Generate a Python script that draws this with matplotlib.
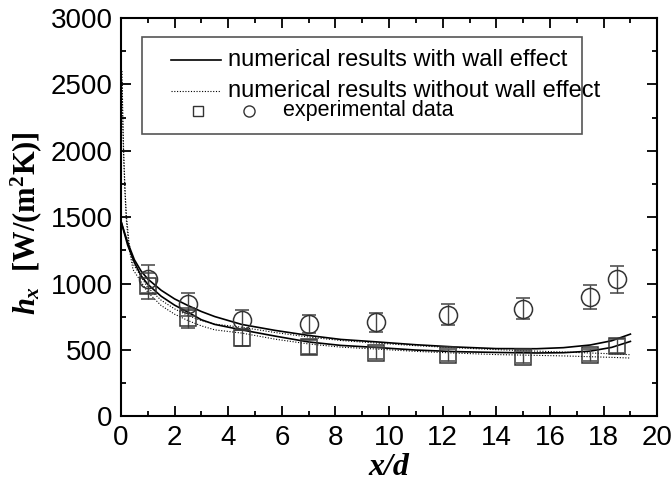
import matplotlib.pyplot as plt
from matplotlib.patches import Rectangle
from matplotlib.lines import Line2D
from matplotlib.ticker import MultipleLocator

plt.rcParams['font.family'] = ['Liberation Sans', 'DejaVu Sans']
plt.rcParams['mathtext.fontset'] = 'custom'
plt.rcParams['mathtext.rm'] = 'Liberation Serif:bold'
plt.rcParams['mathtext.it'] = 'Liberation Serif:italic:bold'
plt.rcParams['mathtext.bf'] = 'Liberation Serif:bold'

# experimental points (two test cases) with error bars
x_exp = [1, 2.5, 4.5, 7, 9.5, 12.2, 15, 17.5, 18.5]
h_circ = [1035, 843, 729, 697, 709, 767, 812, 898, 1032]
err_circ = [103, 84, 73, 70, 71, 77, 81, 90, 103]
h_sq = [985, 742, 591, 523, 478, 465, 447, 465, 528]
err_sq = [98, 74, 59, 52, 48, 46, 45, 46, 53]

# numerical results with wall effect
x_wall = [0, 0.25, 0.5, 0.75, 1, 1.5, 2, 2.5, 3, 3.5, 4.5, 5.75, 7, 8.2,
          9.5, 11, 12.5, 14, 15.5, 16.5, 17.5, 18.3, 19]
h_wall_1 = [1470, 1310, 1180, 1095, 1035, 950, 885, 835, 790, 752, 693, 648,
            610, 580, 562, 540, 523, 511, 510, 518, 538, 570, 620]
h_wall_2 = [1470, 1290, 1160, 1060, 995, 905, 838, 785, 728, 693, 652, 605,
            561, 535, 520, 500, 488, 482, 478, 480, 492, 520, 565]

# numerical results without wall effect
x_nowall = [0.04, 0.07, 0.1, 0.15, 0.2, 0.3, 0.45, 0.65, 1, 1.5, 2, 2.5, 3,
            3.5, 4.5, 5.75, 7, 8.2, 9.5, 11, 12.5, 14, 15.5, 16.5, 17.5, 18.3, 19]
h_nowall_1 = [2600, 2250, 2000, 1720, 1520, 1310, 1150, 1085, 970, 875, 810,
              760, 722, 695, 672, 632, 598, 572, 553, 533, 517, 503, 492, 485,
              478, 472, 465]
h_nowall_2 = [2520, 2180, 1950, 1680, 1480, 1270, 1105, 1045, 935, 835, 770,
              722, 682, 652, 628, 582, 546, 522, 508, 490, 477, 466, 460, 456,
              450, 445, 440]

fig = plt.figure(figsize=(6.72, 4.92), dpi=100)
ax = fig.add_axes([0.180, 0.1535, 0.798, 0.810])

ax.plot(x_wall, h_wall_1, color='black', lw=1.2)
ax.plot(x_wall, h_wall_2, color='black', lw=1.2)
ax.plot(x_nowall, h_nowall_1, color='black', lw=0.8, ls=(0, (1, 1.5)))
ax.plot(x_nowall, h_nowall_2, color='black', lw=0.8, ls=(0, (1, 1.5)))

ax.errorbar(x_exp, h_sq, yerr=err_sq, fmt='s', ms=11, mfc='none', mec='#333333',
            mew=1.1, ecolor='#444444', elinewidth=1.0, capsize=5, capthick=1.0)
ax.errorbar(x_exp, h_circ, yerr=err_circ, fmt='o', ms=13, mfc='none', mec='#333333',
            mew=1.1, ecolor='#444444', elinewidth=1.0, capsize=5, capthick=1.0)

ax.set_xlim(0, 20)
ax.set_ylim(0, 3000)
ax.xaxis.set_major_locator(MultipleLocator(2))
ax.xaxis.set_minor_locator(MultipleLocator(1))
ax.yaxis.set_major_locator(MultipleLocator(500))
ax.yaxis.set_minor_locator(MultipleLocator(250))
ax.tick_params(which='both', direction='in', top=True, right=True, width=1.3,
               labelsize=20, pad=6)
ax.tick_params(which='major', length=7)
ax.tick_params(which='minor', length=3.5)
for s in ax.spines.values():
    s.set_linewidth(1.5)

ax.set_xlabel('x/d', fontsize=23, fontstyle='italic', fontweight='bold',
              family='Liberation Serif', va='center')
ax.xaxis.set_label_coords(0.5, -0.129)
ax.set_ylabel(r'$h_x$  $\mathrm{[W/(m^2K)]}$', fontsize=22, fontweight='bold',
              family='Liberation Serif', va='center')
ax.yaxis.set_label_coords(-0.177, 0.486)

# legend box
tr = ax.transAxes
ax.add_patch(Rectangle((0.0397, 0.7089), 0.8198, 0.2427, transform=tr,
                       facecolor='white', edgecolor='#555555', lw=1.2, zorder=5))
ax.add_line(Line2D([0.0927, 0.186], [0.8939, 0.8939], transform=tr,
                   color='black', lw=1.2, zorder=6))
ax.add_line(Line2D([0.0927, 0.186], [0.8168, 0.8168], transform=tr,
                   color='black', lw=0.8, ls=(0, (1, 1.5)), zorder=6))
ax.add_line(Line2D([0.1442], [0.7666], transform=tr, marker='s', ms=7,
                   mfc='none', mec='#333333', mew=1.0, ls='none', zorder=6))
ax.add_line(Line2D([0.2388], [0.7666], transform=tr, marker='o', ms=8,
                   mfc='none', mec='#333333', mew=1.0, ls='none', zorder=6))
ax.text(0.2002, 0.8939, 'numerical results with wall effect', transform=tr,
        fontsize=17, va='center', ha='left', zorder=6)
ax.text(0.2002, 0.8168, 'numerical results without wall effect', transform=tr,
        fontsize=17, va='center', ha='left', zorder=6)
ax.text(0.3028, 0.7666, 'experimental data', transform=tr,
        fontsize=15.5, va='center', ha='left', zorder=6)

fig.savefig('out.png', dpi=100)
